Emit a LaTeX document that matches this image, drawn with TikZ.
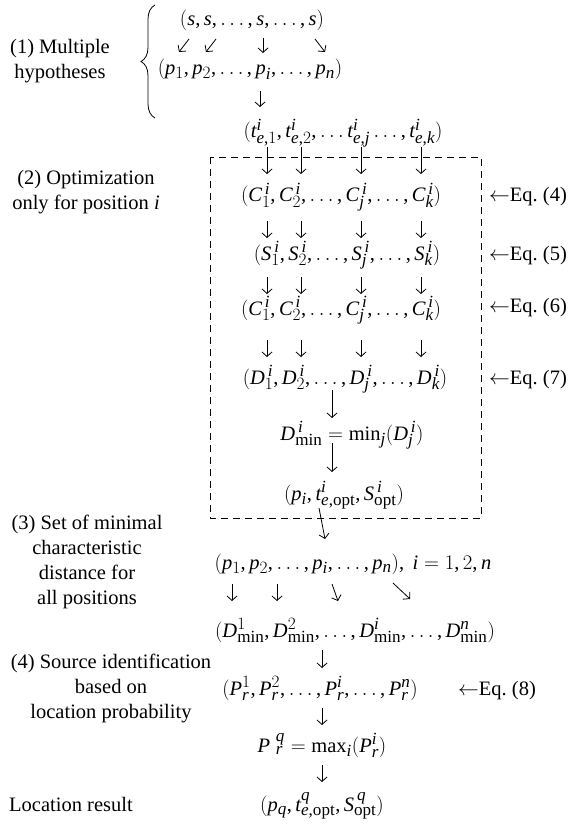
\documentclass[tikz,border=0pt]{standalone}
\usepackage{fontspec}
\setmainfont{Liberation Serif}
\usepackage[italic]{mathastext}
\usetikzlibrary{arrows.meta,decorations.pathreplacing}
\begin{document}
\begin{tikzpicture}[x=1pt,y=-1pt,
  lab/.style={font=\fontsize{20.5}{25}\selectfont, inner sep=0pt, align=center},
  mth/.style={font=\fontsize{20.5}{25}\selectfont, inner sep=0pt, anchor=base},
  arr/.style={line width=0.8pt, -{Straight Barb[length=4.5pt,width=10pt]}},
  box/.style={line width=0.8pt, dash pattern=on 7pt off 5pt}
]
\useasboundingbox (0,0) rectangle (573,826);

% ---- left labels
\node[lab] (l1) at (60,61) {(1) Multiple\\hypotheses};
\node[lab] (l2) at (86,192) {(2) Optimization\\only for position \textit{i}};
\node[lab] (l3) at (87,562) {(3) Set of minimal\\characteristic\\distance for\\all positions};
\node[lab] (l4) at (111,688) {(4) Source identification\\based on\\location probability};
\node[lab, anchor=base west] (l5) at (9,811) {Location result};

% ---- rows
\node[mth] (srow) at (252,26) {$(s, s, \ldots, s, \ldots, s)$};
\node[mth] (prow) at (250,75) {$(p_1, p_2, \ldots, p_i, \ldots, p_n)$};
\node[mth] (trow) at (343,138) {$(t^i_{e,1}, t^i_{e,2}, \ldots t^i_{e,j} \ldots, t^i_{e,k})$};
\node[mth] (crow) at (341,202) {$(C^{\,i}_1, C^{\,i}_2, \ldots, C^{\,i}_j, \ldots, C^{\,i}_k)$};
\node[mth] (srowb) at (347,260) {$(S^{\,i}_1, S^{\,i}_2, \ldots, S^{\,i}_j, \ldots, S^{\,i}_k)$};
\node[mth] (crowb) at (341,315) {$(C^{\,i}_1, C^{\,i}_2, \ldots, C^{\,i}_j, \ldots, C^{\,i}_k)$};
\node[mth] (drow) at (345,384) {$(D^{\,i}_1, D^{\,i}_2, \ldots, D^{\,i}_j, \ldots, D^{\,i}_k)$};
\node[mth] (dmin) at (352,440) {$D^{\,i}_{\min} = \min_j(D^{\,i}_j)$};
\node[mth] (popt) at (344,500) {$(p_i, t^i_{e,\mathrm{opt}}, S^{\,i}_{\mathrm{opt}})$};
\node[mth] (prowb) at (353,569) {$(p_1, p_2, \ldots, p_i, \ldots, p_n),\ i = 1, 2, n$};
\node[mth] (dminrow) at (355,637) {$(D^1_{\min}, D^2_{\min}, \ldots, D^i_{\min}, \ldots, D^n_{\min})$};
\node[mth] (prrow) at (320,695) {$(P^1_r, P^2_r, \ldots, P^i_r, \ldots, P^n_r)$};
\node[mth] (pq) at (322,752) {$P\;{}^{q}_{r} = \max_i(P^i_r)$};
\node[mth] (res) at (322,811) {$(p_q, t^q_{e,\mathrm{opt}}, S^{\,q}_{\mathrm{opt}})$};

% ---- equation references
\node[mth, anchor=base west] (eq4) at (489,202) {$\leftarrow$Eq.~(4)};
\node[mth, anchor=base west] (eq5) at (489,260) {$\leftarrow$Eq.~(5)};
\node[mth, anchor=base west] (eq6) at (489,312) {$\leftarrow$Eq.~(6)};
\node[mth, anchor=base west] (eq7) at (489,384) {$\leftarrow$Eq.~(7)};
\node[mth, anchor=base west] (eq8) at (458,695) {$\leftarrow$Eq.~(8)};

% ---- brace and dashed frame
\draw[line width=0.8pt, decorate, decoration={brace, amplitude=14pt, aspect=0.5}] (155,118) -- (155,5);
\draw[box] (210,157) rectangle (481,518);

% ---- arrows: s -> p
\coordinate (sa1) at (189,39); \coordinate (pa1) at (179,52);
\coordinate (sa2) at (216,39); \coordinate (pa2) at (206,52);
\coordinate (sa3) at (263,38); \coordinate (pa3) at (263,53);
\coordinate (sa4) at (315,39); \coordinate (pa4) at (325,52);
\foreach \k in {1,...,4} \draw[arr] (sa\k) -- (pa\k);
% p -> t
\coordinate (pb) at (260,91); \coordinate (tb) at (260,107);
\draw[arr] (pb) -- (tb);
% column arrows inside frame
\foreach \x [count=\k] in {267,301,361,421} {
  \coordinate (ta\k) at (\x,147); \coordinate (ca\k) at (\x,174);
  \coordinate (cb\k) at (\x,221); \coordinate (sb\k) at (\x,238);
  \coordinate (sc\k) at (\x,277); \coordinate (cc\k) at (\x,294);
  \coordinate (cd\k) at (\x,340); \coordinate (dd\k) at (\x,357);
  \draw[arr] (ta\k) -- (ca\k);
  \draw[arr] (cb\k) -- (sb\k);
  \draw[arr] (sc\k) -- (cc\k);
  \draw[arr] (cd\k) -- (dd\k);
}
\coordinate (de) at (332,390); \coordinate (me) at (332,418);
\draw[arr] (de) -- (me);
\coordinate (mf) at (332,443); \coordinate (of) at (332,472);
\draw[arr] (mf) -- (of);
\coordinate (og) at (319,508); \coordinate (pg) at (325,539);
\draw[arr] (og) -- (pg);
% p -> Dmin
\coordinate (ph1) at (232,584); \coordinate (dh1) at (232,601);
\coordinate (ph2) at (277,584); \coordinate (dh2) at (277,601);
\coordinate (ph3) at (332,584); \coordinate (dh3) at (338,601);
\coordinate (ph4) at (393,583); \coordinate (dh4) at (410,599);
\foreach \k in {1,...,4} \draw[arr] (ph\k) -- (dh\k);
% lower chain
\coordinate (di) at (322,650); \coordinate (ri) at (322,668);
\draw[arr] (di) -- (ri);
\coordinate (rj) at (322,708); \coordinate (qj) at (322,725);
\draw[arr] (rj) -- (qj);
\coordinate (qk) at (322,765); \coordinate (ek) at (322,782);
\draw[arr] (qk) -- (ek);
\end{tikzpicture}
\end{document}
